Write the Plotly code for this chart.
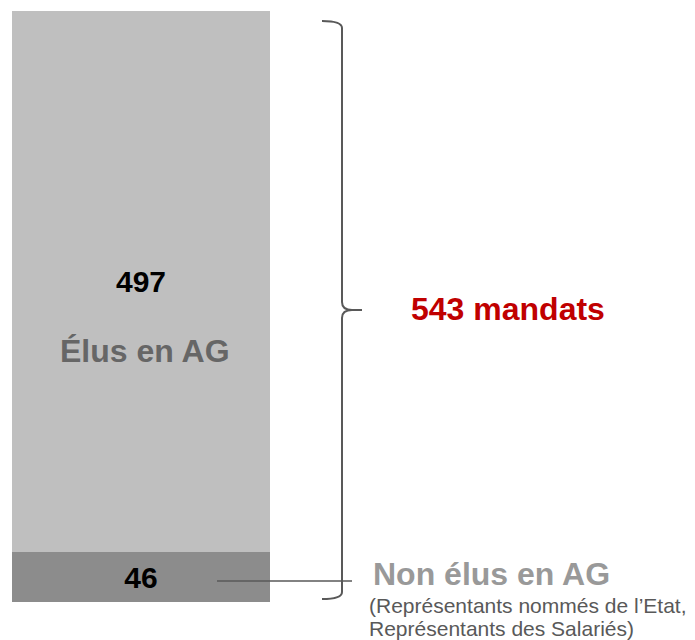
import plotly.graph_objects as go

# Data
segments = ["Non élus en AG", "Élus en AG"]
values = [46, 497]
colors = ["#8c8c8c", "#bfbfbf"]
total_label = "543 mandats"
sub_lines = ["(Représentants nommés de l’Etat,", "Représentants des Salariés)"]

W, H = 695, 640
FONT = "Arial, Liberation Sans, sans-serif"
total = sum(values)

# pixel layout of the bar
bar_top_px, bar_bot_px = 11, 602
bar_left_px, bar_right_px = 12, 270
ppu = (bar_bot_px - bar_top_px) / total
y_lo = -(H - bar_bot_px) / ppu
y_hi = total + bar_top_px / ppu


def px(x):
    return x / W


def py(y):
    return 1 - y / H


fig = go.Figure()
for name, v, c in zip(segments, values, colors):
    fig.add_trace(go.Bar(
        x=[(bar_left_px + bar_right_px) / 2], y=[v], name=name,
        width=bar_right_px - bar_left_px,
        marker=dict(color=c, line=dict(width=0)),
        text=[f"<b>{v}</b>"], textposition="inside", insidetextanchor="middle",
        textangle=0, textfont=dict(family=FONT, size=30, color="#000000"),
        hoverinfo="skip",
    ))

# bracket path (pixels -> paper)
def P(x, y):
    return f"{px(x):.5f},{py(y):.5f}"

path = (
    f"M {P(322,21)} Q {P(342,21)} {P(342,28)} "
    f"L {P(342,302)} Q {P(342,310)} {P(352,310)} L {P(362,310)} "
    f"M {P(352,310)} Q {P(342,310)} {P(342,318)} "
    f"L {P(342,592)} Q {P(342,599)} {P(322,599)}"
)

shapes = [
    dict(type="path", xref="paper", yref="paper", path=path,
         line=dict(color="#595959", width=2)),
    dict(type="line", xref="paper", yref="paper",
         x0=px(217), x1=px(352), y0=py(581), y1=py(581),
         line=dict(color="#595959", width=1.5)),
]

ann = [
    dict(x=px(145), y=py(351), text="<b>Élus en AG</b>",
         font=dict(family=FONT, size=32, color="#666666"),
         xanchor="center", yanchor="middle"),
    dict(x=px(409), y=py(309), text=f"<b>{total_label}</b>",
         font=dict(family=FONT, size=32, color="#c00000"),
         xanchor="left", yanchor="middle"),
    dict(x=px(371), y=py(574), text="<b>Non élus en AG</b>",
         font=dict(family=FONT, size=32, color="#999999"),
         xanchor="left", yanchor="middle"),
    dict(x=px(367), y=py(605), text=sub_lines[0],
         font=dict(family=FONT, size=21, color="#595959"),
         xanchor="left", yanchor="middle"),
    dict(x=px(367), y=py(628), text=sub_lines[1],
         font=dict(family=FONT, size=21, color="#595959"),
         xanchor="left", yanchor="middle"),
]
for a in ann:
    a.update(xref="paper", yref="paper", showarrow=False)

fig.update_layout(
    width=W, height=H, margin=dict(l=0, r=0, t=0, b=0),
    barmode="stack", showlegend=False, bargap=0,
    paper_bgcolor="white", plot_bgcolor="white",
    xaxis=dict(range=[0, W], visible=False, fixedrange=True),
    yaxis=dict(range=[y_lo, y_hi], visible=False, fixedrange=True),
    shapes=shapes, annotations=ann,
    uniformtext=dict(minsize=10, mode="show"),
)

fig.write_html(
    "out.html",
    config={"displayModeBar": False},
    post_script="document.body.style.margin='0';document.body.style.overflow='hidden';",
)
